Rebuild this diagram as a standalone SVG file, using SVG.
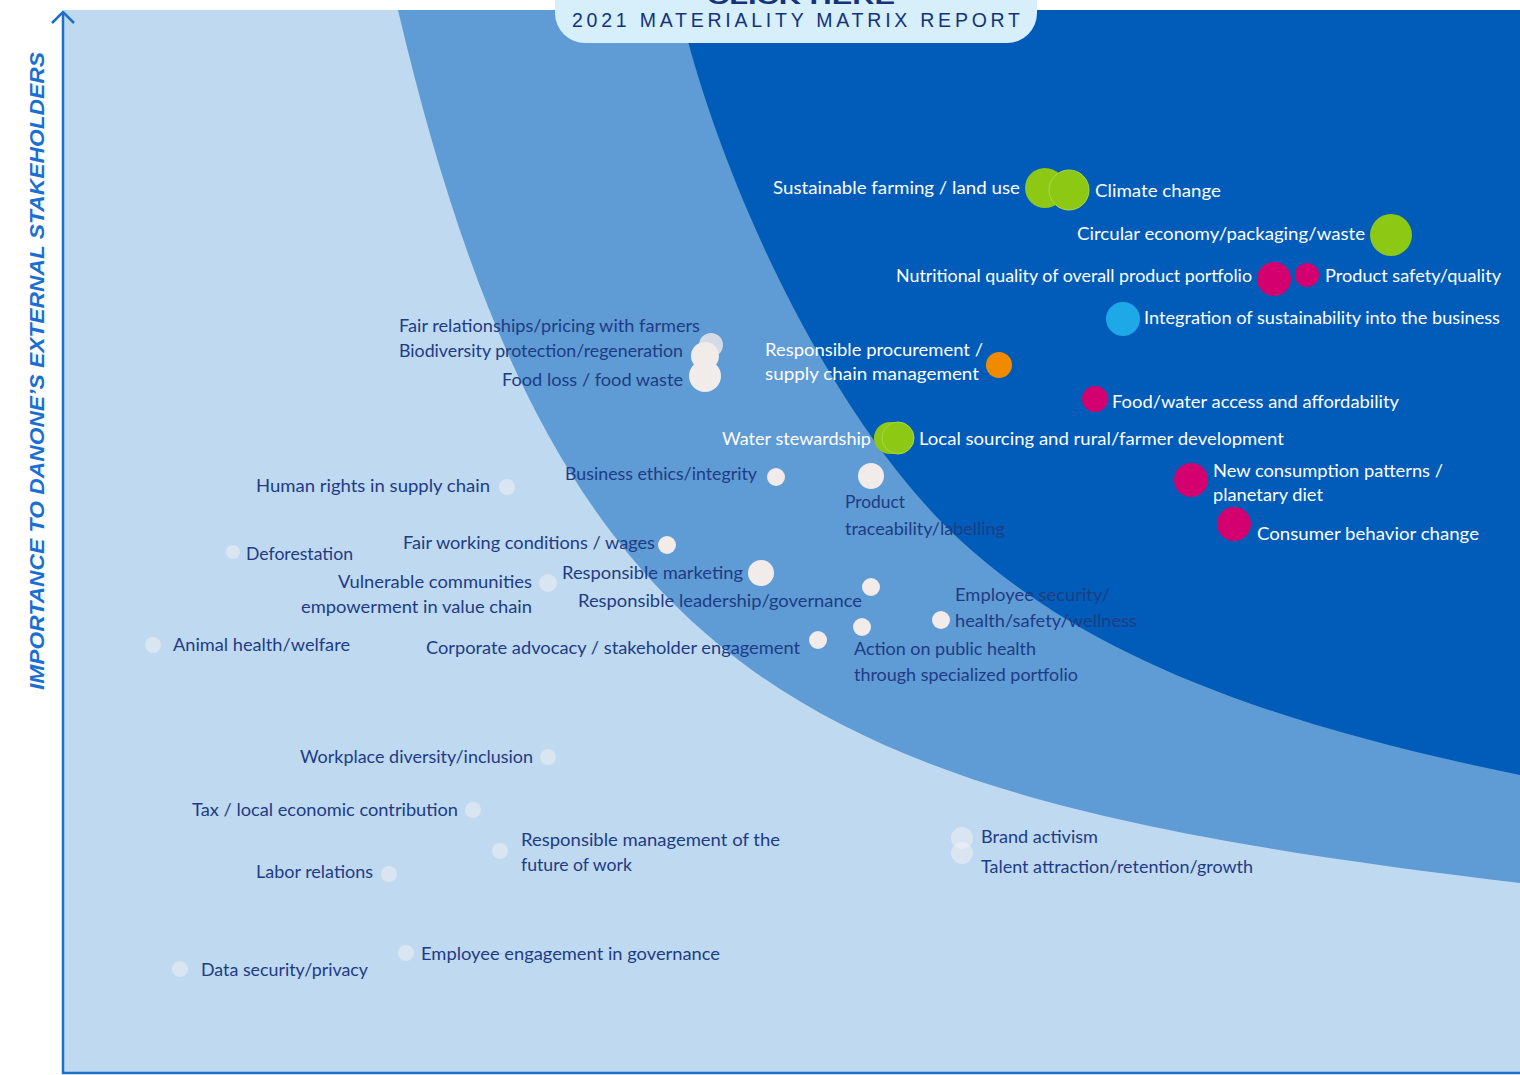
<svg xmlns="http://www.w3.org/2000/svg" width="1520" height="1075" viewBox="0 0 1520 1075">
<defs>
<style>
.lw{font-family:Lato,"Open Sans","Liberation Sans",sans-serif;font-size:18px;fill:#ffffff}
.ln{font-family:Lato,"Open Sans","Liberation Sans",sans-serif;font-size:18px;fill:#1e3c84}
.g{fill:#8cc814}
.m{fill:#d4006f}
.c{fill:#1ea8e8}
.o{fill:#f08a00}
.w{fill:#f1ebea}
.f{fill:#eef0f4;opacity:0.55}
.axis{stroke:#1f6fc6;stroke-width:2.5;fill:none}
</style>
</defs>
<rect x="0" y="0" width="1520" height="1075" fill="#ffffff"/>
<g id="background">
<rect x="64" y="10" width="1456" height="1063" fill="#bfd9f0"/>
<path d="M398,10 C560,700 820,799 1520,883 L1520,10 Z" fill="#5f9bd4"/>
<path d="M680,10 C720,180 830,420 960,540 C1080,650 1250,720 1520,775 L1520,10 Z" fill="#005cb8"/>
</g>
<g id="axes">
<path class="axis" d="M63,12 L63,1073 L1520,1073"/>
<path class="axis" d="M52,23 L63,12 L74,23"/>
<text transform="translate(44,371) rotate(-90)" text-anchor="middle" font-family="'Liberation Sans',Arial,sans-serif" font-style="italic" font-weight="bold" font-size="21" fill="#1a6fd2" textLength="638" lengthAdjust="spacingAndGlyphs">IMPORTANCE TO DANONE’S EXTERNAL STAKEHOLDERS</text>
</g>
<g id="header">
<rect x="555" y="-40" width="482" height="83" rx="30" fill="#d6effb"/>
<text x="801" y="4" text-anchor="middle" font-family="'Liberation Sans',Arial,sans-serif" font-weight="bold" font-size="22" fill="#14337a" textLength="188" lengthAdjust="spacingAndGlyphs">CLICK HERE</text>
<text x="572" y="27" font-family="'Liberation Sans',Arial,sans-serif" font-size="19.5" fill="#14337a" textLength="448" lengthAdjust="spacing">2021 MATERIALITY MATRIX REPORT</text>
</g>
<g id="connectors"></g>
<g id="n-farming"><circle class="g" cx="1045" cy="188" r="20"/><text class="lw" x="773" y="194" textLength="247" lengthAdjust="spacingAndGlyphs">Sustainable farming / land use</text></g>
<g id="n-climate"><circle class="g" cx="1069" cy="190" r="20" stroke="#a8d84a" stroke-width="1"/><text class="lw" x="1095" y="197" textLength="126" lengthAdjust="spacingAndGlyphs">Climate change</text></g>
<g id="n-circular"><circle class="g" cx="1391" cy="235" r="21"/><text class="lw" x="1077" y="240" textLength="288" lengthAdjust="spacingAndGlyphs">Circular economy/packaging/waste</text></g>
<g id="n-nutritional"><circle class="m" cx="1274" cy="279" r="17"/><text class="lw" x="896" y="282" textLength="356" lengthAdjust="spacingAndGlyphs">Nutritional quality of overall product portfolio</text></g>
<g id="n-safety"><circle class="m" cx="1307" cy="275" r="12"/><text class="lw" x="1325" y="282" textLength="176" lengthAdjust="spacingAndGlyphs">Product safety/quality</text></g>
<g id="n-integration"><circle class="c" cx="1123" cy="319" r="17"/><text class="lw" x="1144" y="324" textLength="356" lengthAdjust="spacingAndGlyphs">Integration of sustainability into the business</text></g>
<g id="n-procurement"><circle class="o" cx="999" cy="365" r="13"/><text class="lw" x="765" y="356" textLength="218" lengthAdjust="spacingAndGlyphs">Responsible procurement /</text><text class="lw" x="765" y="380" textLength="214" lengthAdjust="spacingAndGlyphs">supply chain management</text></g>
<g id="n-access"><circle class="m" cx="1095" cy="399" r="13"/><text class="lw" x="1112" y="408" textLength="287" lengthAdjust="spacingAndGlyphs">Food/water access and affordability</text></g>
<g id="n-water"><circle class="g" cx="890" cy="438" r="16"/><text class="lw" x="722" y="445" textLength="149" lengthAdjust="spacingAndGlyphs">Water stewardship</text></g>
<g id="n-local"><circle class="g" cx="898" cy="438" r="16" stroke="#a8d84a" stroke-width="1"/><text class="lw" x="919" y="445" textLength="365" lengthAdjust="spacingAndGlyphs">Local sourcing and rural/farmer development</text></g>
<g id="n-consumption"><circle class="m" cx="1191" cy="480" r="17"/><text class="lw" x="1213" y="477" textLength="230" lengthAdjust="spacingAndGlyphs">New consumption patterns /</text><text class="lw" x="1213" y="501" textLength="110" lengthAdjust="spacingAndGlyphs">planetary diet</text></g>
<g id="n-behavior"><circle class="m" cx="1234" cy="524" r="17"/><text class="lw" x="1257" y="540" textLength="222" lengthAdjust="spacingAndGlyphs">Consumer behavior change</text></g>
<g id="n-fair-relationships"><circle class="w" cx="711" cy="345" r="12" opacity="0.8"/><text class="ln" x="399" y="332" textLength="301" lengthAdjust="spacingAndGlyphs">Fair relationships/pricing with farmers</text></g>
<g id="n-biodiversity"><circle class="w" cx="705" cy="356" r="14"/><text class="ln" x="399" y="357" textLength="284" lengthAdjust="spacingAndGlyphs">Biodiversity protection/regeneration</text></g>
<g id="n-foodloss"><circle class="w" cx="705" cy="376" r="16"/><text class="ln" x="502" y="386" textLength="181" lengthAdjust="spacingAndGlyphs">Food loss / food waste</text></g>
<g id="n-human-rights"><circle class="f" cx="507" cy="487" r="8"/><text class="ln" x="256" y="492" textLength="234" lengthAdjust="spacingAndGlyphs">Human rights in supply chain</text></g>
<g id="n-ethics"><circle class="w" cx="776" cy="477" r="9"/><text class="ln" x="565" y="480" textLength="192" lengthAdjust="spacingAndGlyphs">Business ethics/integrity</text></g>
<g id="n-traceability"><circle class="w" cx="871" cy="476" r="13"/><text class="ln" x="845" y="508" textLength="60" lengthAdjust="spacingAndGlyphs">Product</text><text class="ln" x="845" y="535" textLength="160" lengthAdjust="spacingAndGlyphs">traceability/labelling</text></g>
<g id="n-deforestation"><circle class="f" cx="233" cy="552" r="7"/><text class="ln" x="246" y="560" textLength="107" lengthAdjust="spacingAndGlyphs">Deforestation</text></g>
<g id="n-fair-working"><circle class="w" cx="667" cy="545" r="9"/><text class="ln" x="403" y="549" textLength="252" lengthAdjust="spacingAndGlyphs">Fair working conditions / wages</text></g>
<g id="n-vulnerable"><circle class="f" cx="548" cy="583" r="9"/><text class="ln" x="338" y="588" textLength="194" lengthAdjust="spacingAndGlyphs">Vulnerable communities</text><text class="ln" x="301" y="613" textLength="231" lengthAdjust="spacingAndGlyphs">empowerment in value chain</text></g>
<g id="n-marketing"><circle class="w" cx="761" cy="573" r="13"/><text class="ln" x="562" y="579" textLength="181" lengthAdjust="spacingAndGlyphs">Responsible marketing</text></g>
<g id="n-leadership"><circle class="w" cx="871" cy="587" r="9"/><text class="ln" x="578" y="607" textLength="284" lengthAdjust="spacingAndGlyphs">Responsible leadership/governance</text></g>
<g id="n-employee-security"><circle class="w" cx="941" cy="620" r="9"/><text class="ln" x="955" y="601" textLength="155" lengthAdjust="spacingAndGlyphs">Employee security/</text><text class="ln" x="955" y="627" textLength="182" lengthAdjust="spacingAndGlyphs">health/safety/wellness</text></g>
<g id="n-animal"><circle class="f" cx="153" cy="645" r="8"/><text class="ln" x="173" y="651" textLength="177" lengthAdjust="spacingAndGlyphs">Animal health/welfare</text></g>
<g id="n-advocacy"><circle class="w" cx="818" cy="640" r="9"/><text class="ln" x="426" y="654" textLength="374" lengthAdjust="spacingAndGlyphs">Corporate advocacy / stakeholder engagement</text></g>
<g id="n-public-health"><circle class="w" cx="862" cy="627" r="9"/><text class="ln" x="854" y="655" textLength="182" lengthAdjust="spacingAndGlyphs">Action on public health</text><text class="ln" x="854" y="681" textLength="224" lengthAdjust="spacingAndGlyphs">through specialized portfolio</text></g>
<g id="n-diversity"><circle class="f" cx="548" cy="757" r="8"/><text class="ln" x="300" y="763" textLength="233" lengthAdjust="spacingAndGlyphs">Workplace diversity/inclusion</text></g>
<g id="n-tax"><circle class="f" cx="473" cy="810" r="8"/><text class="ln" x="192" y="816" textLength="266" lengthAdjust="spacingAndGlyphs">Tax / local economic contribution</text></g>
<g id="n-future-work"><circle class="f" cx="500" cy="851" r="8"/><text class="ln" x="521" y="846" textLength="259" lengthAdjust="spacingAndGlyphs">Responsible management of the</text><text class="ln" x="521" y="871" textLength="111" lengthAdjust="spacingAndGlyphs">future of work</text></g>
<g id="n-labor"><circle class="f" cx="389" cy="874" r="8"/><text class="ln" x="256" y="878" textLength="117" lengthAdjust="spacingAndGlyphs">Labor relations</text></g>
<g id="n-brand"><circle class="f" cx="962" cy="838" r="11"/><text class="ln" x="981" y="843" textLength="117" lengthAdjust="spacingAndGlyphs">Brand activism</text></g>
<g id="n-talent"><circle class="f" cx="962" cy="853" r="11"/><text class="ln" x="981" y="873" textLength="272" lengthAdjust="spacingAndGlyphs">Talent attraction/retention/growth</text></g>
<g id="n-engagement"><circle class="f" cx="406" cy="953" r="8"/><text class="ln" x="421" y="960" textLength="299" lengthAdjust="spacingAndGlyphs">Employee engagement in governance</text></g>
<g id="n-data"><circle class="f" cx="180" cy="969" r="8"/><text class="ln" x="201" y="976" textLength="167" lengthAdjust="spacingAndGlyphs">Data security/privacy</text></g>
</svg>
